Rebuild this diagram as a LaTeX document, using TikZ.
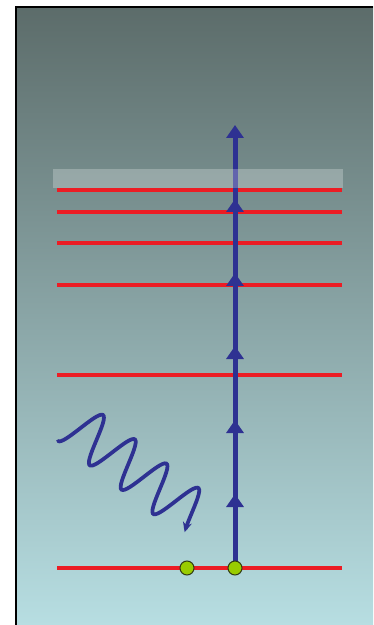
\documentclass[tikz,border=0pt]{standalone}
\usetikzlibrary{arrows.meta}
\definecolor{bgtop}{RGB}{92,108,106}
\definecolor{bgbot}{RGB}{183,222,226}
\definecolor{lvlred}{RGB}{236,28,36}
\definecolor{exblue}{RGB}{46,49,146}
\definecolor{dotgreen}{RGB}{153,204,0}
\definecolor{dotedge}{RGB}{50,60,20}

\begin{document}
\begin{tikzpicture}[
    x=0.02cm, y=-0.02cm,
    level/.style={draw=lvlred, line width=0.08cm},
    stem/.style={draw=exblue, line width=0.1cm},
    excite/.style={stem, -{Triangle[width=0.34cm,length=0.26cm]}},
    photon/.style={draw=exblue, line width=0.075cm, line cap=round, -{Stealth[width=0.18cm,length=0.2cm]}},
    dot/.style={circle, draw=dotedge, fill=dotgreen, line width=0.6pt, minimum size=0.28cm, inner sep=0pt},
    band/.style={fill=white, fill opacity=0.25}
  ]
  \useasboundingbox (0,0) rectangle (373,625);
  % background panel
  \shade[top color=bgtop, bottom color=bgbot] (16,7) rectangle (373,625);
  \draw[line width=0.04cm] (16,625) -- (16,7) -- (373,7);

  % energy levels
  \foreach \lv/\yy in {1/190,2/212,3/243,4/285,5/375,0/568}{
    \coordinate (lvl\lv-w) at (57,\yy);
    \coordinate (lvl\lv-e) at (342,\yy);
    \draw[level] (lvl\lv-w) -- (lvl\lv-e);
  }

  % ladder of absorptions
  \foreach \i/\yy in {0/568,1/494,2/420,3/346,4/273,5/199,6/125}
    \coordinate (v\i) at (235,\yy);
  \draw[stem] (v0) -- (v5);
  \foreach \i/\j in {0/1,1/2,2/3,3/4,4/5,5/6}
    \draw[excite] (v\i) -- (v\j);

  % continuum
  \fill[band] (53,169) rectangle (343,188);

  % incoming photon
  \draw[photon] plot[domain=0:156, samples=120]
    ({58+0.794*\x+0.608*(24-24*cos(9*\x))}, {441+0.608*\x-0.794*(24-24*cos(9*\x))});

  \node[dot] (e1) at (187,568) {};
  \node[dot] (e2) at (235,568) {};
\end{tikzpicture}
\end{document}
